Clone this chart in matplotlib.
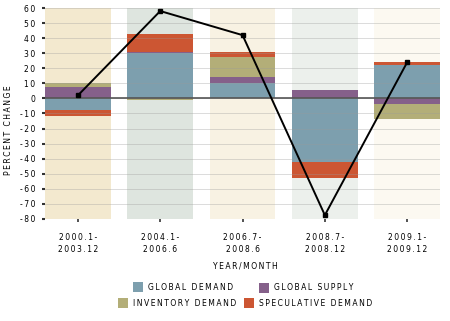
import matplotlib
matplotlib.use("Agg")
import matplotlib.pyplot as plt
from matplotlib.patches import Rectangle
import numpy as np

periods = ["2000.1-\n2003.12", "2004.1-\n2006.6", "2006.7-\n2008.6", "2008.7-\n2008.12", "2009.1-\n2009.12"]
global_demand = [-8, 30, 10, -42, 22.5]
global_supply = [7.5, 1, 4, 5.5, -4]
inventory_demand = [3, -1, 13.5, 0, -10]
speculative_demand = [-4, 11.5, 3, -11, 2]
total_change = [2, 58, 42, -77.5, 24]

series_names = ["GLOBAL DEMAND", "GLOBAL SUPPLY", "INVENTORY DEMAND", "SPECULATIVE DEMAND"]
series_colors = ["#7d9fae", "#85608a", "#b3ae78", "#cc5633"]
band_colors = ["#f3e9cf", "#dee5df", "#f8f2e3", "#ecf0ec", "#fcf9f1"]
yticks = list(range(-80, 61, 10))


def spaced(s):
    """Widen lettering by putting a thin space between characters."""
    return "\n".join("\u2009".join(line) for line in s.split("\n"))


plt.rcParams["font.family"] = ["DejaVu Sans"]
fig = plt.figure(figsize=(4.5, 3.21), dpi=100)
ax = fig.add_axes([0.1, 0.318, 0.878, 0.657])

x = np.arange(len(periods))
width = 0.8

# background bands behind each period
for i, c in enumerate(band_colors):
    ax.axvspan(i - width / 2, i + width / 2, color=c, zorder=0, lw=0)

# stacked bars, positives upward and negatives downward
pos_base = np.zeros(len(periods))
neg_base = np.zeros(len(periods))
for vals, col in zip([global_demand, global_supply, inventory_demand, speculative_demand], series_colors):
    v = np.array(vals, dtype=float)
    pos = np.where(v > 0, v, 0)
    neg = np.where(v < 0, v, 0)
    ax.bar(x, pos, width, bottom=pos_base, color=col, zorder=2, lw=0)
    ax.bar(x, neg, width, bottom=neg_base, color=col, zorder=2, lw=0)
    pos_base += pos
    neg_base += neg

# grid lines across the plot
for t in yticks:
    ax.axhline(t, color="#9a9a9a", lw=0.6, alpha=0.4, zorder=3)
ax.axhline(0, color="#555555", lw=1.2, zorder=4)

ax.plot(x, total_change, color="black", lw=1.4, marker="s", markersize=3.5, zorder=5)

ax.set_xlim(-0.4, 4.4)
ax.set_ylim(-80, 60)
ax.set_yticks(yticks)
ax.set_yticklabels([spaced(str(t)) for t in yticks], fontsize=5.5)
ax.set_xticks(x)
ax.set_xticklabels([spaced(p) for p in periods], fontsize=5.5, linespacing=1.45)
ax.tick_params(axis="y", length=2, width=1.5, pad=5, color="#333333")
ax.tick_params(axis="x", length=2, width=1.2, pad=8, color="#333333")
for s in ax.spines.values():
    s.set_visible(False)

fig.text(0.018, 0.595, spaced("PERCENT CHANGE"), rotation=90, fontsize=5.5, ha="center", va="center")
fig.text(0.545, 0.172, spaced("YEAR/MONTH"), fontsize=5.5, ha="center", va="center")

# legend, laid out in two centred rows
W, H = 450.0, 321.0
legend_items = [
    (133, 287, 0), (259, 288, 1),
    (118, 303, 2), (244, 303, 3),
]
for px, py, k in legend_items:
    fig.patches.append(Rectangle((px / W, 1 - (py + 5) / H), 10 / W, 10 / H,
                                 transform=fig.transFigure, color=series_colors[k], lw=0))
    fig.text((px + 15) / W, 1 - py / H, spaced(series_names[k]), fontsize=5.5, ha="left", va="center")

fig.savefig("out.png", dpi=100)
